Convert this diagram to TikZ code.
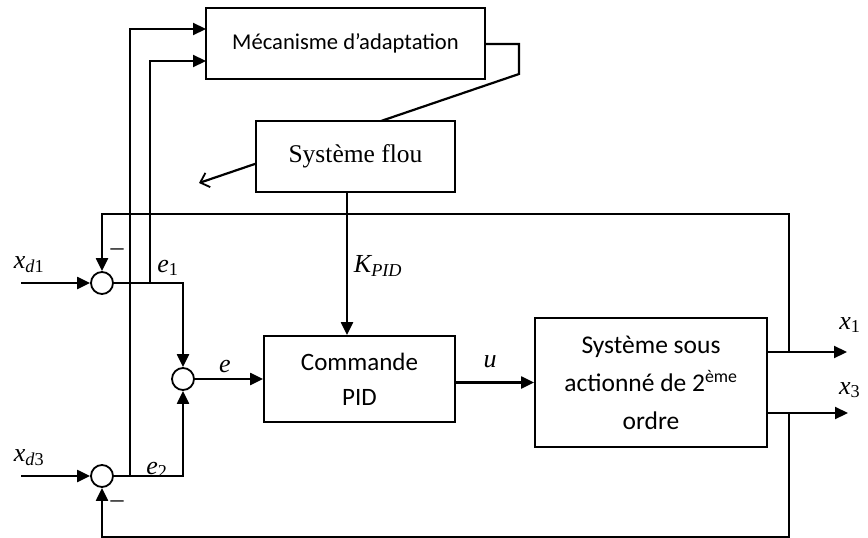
\documentclass[tikz,border=0pt]{standalone}
\usepackage{fontspec}
\setmainfont{Carlito}
\newfontfamily\flouserif{Liberation Serif}
\newcommand\mvar[1]{{\flouserif\itshape #1}}
\newcommand\msub[1]{\textsubscript{\flouserif #1}}
\usetikzlibrary{arrows.meta}
\begin{document}
\begin{tikzpicture}[x=1pt,y=-1pt,
  conn/.style={line width=2.2pt,-{Triangle[length=13pt,width=12pt]}},
  wire/.style={line width=2.2pt},
  blk/.style={draw,line width=1.8pt,fill=white,inner sep=0pt},
  sumj/.style={draw,circle,line width=1.8pt,minimum size=22pt,inner sep=0pt,fill=white},
  lbl/.style={inner sep=0pt,font=\fontsize{26}{30}\selectfont}]
\useasboundingbox (0,0) rectangle (868,538);
\clip (0,0) rectangle (868,538);

% blocks
\node[blk,minimum width=279pt,minimum height=71pt,font=\fontsize{22.6}{26}\selectfont] (meca) at (345.5,43.5) {Mécanisme d’adaptation};
\coordinate (m1) at (206,29);
\coordinate (m2) at (206,61);
\coordinate (mo) at (519,44);
\coordinate (mc) at (519,74);
\coordinate (tip) at (199,183);
\draw[wire,-{Straight Barb[length=8pt,width=15pt,line width=1.8pt]}] (meca.east |- mo) -- (mo) -- (mc) -- (tip);

\node[blk,minimum width=199pt,minimum height=71pt,font=\flouserif\fontsize{25.5}{30}\selectfont] (flou) at (355.5,156.5) {Système flou};
\node[blk,minimum width=191pt,minimum height=86pt,align=center,font=\fontsize{25}{35}\selectfont] (pid) at (359.5,379) {Commande\\PID};
\node[blk,minimum width=232pt,minimum height=129pt,align=center,font=\fontsize{25.5}{38}\selectfont] (sys) at (651,382.5) {Système sous\\actionné de 2\textsuperscript{ème}\\ordre};

% summing junctions
\node[sumj] (s1) at (102,283) {};
\node[sumj] (s2) at (102,476) {};
\node[sumj] (s3) at (183,379) {};

% coordinates
\coordinate (in1) at (21,283);
\coordinate (in3) at (21,476);
\coordinate (j1) at (789,352);
\coordinate (j3) at (789,413);
\coordinate (ft) at (789,214);
\coordinate (fb) at (789,537);
\coordinate (x1e) at (847,352);
\coordinate (x3e) at (848,413);
\coordinate (b1) at (150,283);
\coordinate (b3) at (130,476);
\coordinate (kx) at (347,0);

% connectors
\draw[conn] (in1) -- (s1.west);
\draw[conn] (in3) -- (s2.west);
\draw[conn] (s1.east) -| (s3.north);
\draw[conn] (s2.east) -| (s3.south);
\draw[conn] (s3.east) -- (pid.west);
\draw[conn] (sys.west -| pid.east) -- (sys.west);
\draw[conn] (flou.south -| kx) -- (pid.north -| kx);
\draw[conn] (sys.east |- j1) -- (x1e);
\draw[conn] (sys.east |- j3) -- (x3e);
\draw[conn] (j1) -- (ft) -| (s1.north);
\draw[conn] (j3) -- (fb) -| (s2.south);
\draw[conn] (b1) |- (m2);
\draw[conn] (b3) |- (m1);

% labels
\node[lbl] (lxd1) at (29,265) {\mvar{x}\msub{\itshape d\upshape 1}};
\node[lbl] (lxd3) at (29,458) {\mvar{x}\msub{\itshape d\upshape 3}};
\node[lbl] (le1) at (168,268) {\mvar{e}\msub{1}};
\node[lbl,anchor=base] (le2) at (157,474) {\mvar{e}\msub{2}};
\node[lbl] (le) at (225,366) {\mvar{e}};
\node[lbl] (lu) at (490,362) {\mvar{u}};
\node[lbl] (lk) at (378,266) {\mvar{K}\msub{\itshape PID}};
\node[lbl] (lx1) at (850,325) {\mvar{x}\msub{1}};
\node[lbl,anchor=west] (lx3) at (839,390) {\mvar{x}\msub{3}};
\node[lbl] (m1s) at (117,252) {\flouserif –};
\node[lbl] (m3s) at (117,504) {\flouserif –};
\end{tikzpicture}
\end{document}
